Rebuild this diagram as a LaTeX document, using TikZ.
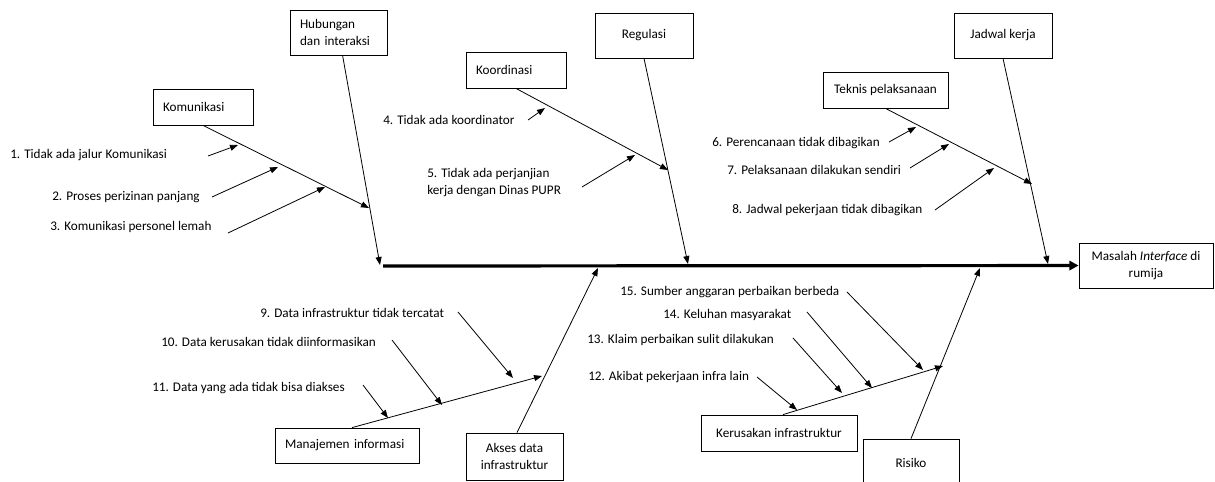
\documentclass[tikz,border=0pt]{standalone}
\usepackage{fontspec}
\setmainfont{Carlito}
\usetikzlibrary{arrows.meta}
\tikzset{
  box/.style={draw, line width=0.6pt, inner xsep=7.5pt, inner ysep=0pt, align=center},
  lbox/.style={box, align=left},
  cause/.style={anchor=west, inner sep=0pt, align=left},
  bone/.style={line width=0.6pt, -{Triangle[length=6pt,width=4.5pt]}},
  spine/.style={line width=2.4pt, -{Triangle[length=7pt,width=7pt]}},
}
\begin{document}
\begin{tikzpicture}[x=0.75pt, y=-0.75pt, font=\fontsize{9.9}{12.9}\selectfont]
      \useasboundingbox (0,0) rectangle (1215,482);
      % category boxes
      \node[lbox, text width=60pt, minimum height=27pt] (kom) at (203,107) {Komunikasi};
      \node[lbox, text width=57.75pt, minimum height=33.75pt] (hub) at (338.5,32.5) {Hubungan\\dan interaksi};
      \node[lbox, text width=60pt, minimum height=27pt] (koo) at (516,70) {Koordinasi};
      \node[box, minimum width=73.5pt, minimum height=33.75pt] (reg) at (644,35.5) {Regulasi};
      \node[box, minimum width=93.75pt, minimum height=27pt] (tek) at (885.5,90) {Teknis pelaksanaan};
      \node[box, minimum width=73.5pt, minimum height=33.75pt] (jad) at (1003,35.5) {Jadwal kerja};
      \node[box, minimum width=100.5pt, minimum height=33.75pt] (mas) at (1146,265.5) {Masalah \textit{Interface} di\\rumija};
      \node[lbox, text width=93pt, minimum height=26.25pt] (man) at (347,445.5) {Manajemen informasi};
      \node[box, minimum width=72.75pt, minimum height=35.25pt] (aks) at (514.5,456.5) {Akses data\\infrastruktur};
      \node[box, minimum width=117pt, minimum height=27pt] (ker) at (779,433) {Kerusakan infrastruktur};
      \node[box, minimum width=72pt, minimum height=36pt] (ris) at (911,463) {Risiko};
      % causes
      \node[cause] (c1) at (10,155) {1. Tidak ada jalur Komunikasi};
      \node[cause] (c2) at (52,197) {2. Proses perizinan panjang};
      \node[cause] (c3) at (50,227) {3. Komunikasi personel lemah};
      \node[cause] (c4) at (383,120) {4. Tidak ada koordinator};
      \node[cause] (c5) at (427,182.5) {5. Tidak ada perjanjian\\kerja dengan Dinas PUPR};
      \node[cause] (c6) at (712,143) {6. Perencanaan tidak dibagikan};
      \node[cause] (c7) at (727,170) {7. Pelaksanaan dilakukan sendiri};
      \node[cause] (c8) at (732,210) {8. Jadwal pekerjaan tidak dibagikan};
      \node[cause] (c9) at (260,313) {9. Data infrastruktur tidak tercatat};
      \node[cause] (c10) at (161,342) {10. Data kerusakan tidak diinformasikan};
      \node[cause] (c11) at (152,388) {11. Data yang ada tidak bisa diakses};
      \node[cause] (c12) at (588,377) {12. Akibat pekerjaan infra lain};
      \node[cause] (c13) at (587,340) {13. Klaim perbaikan sulit dilakukan};
      \node[cause] (c14) at (663,315) {14. Keluhan masyarakat};
      \node[cause] (c15) at (620,292) {15. Sumber anggaran perbaikan berbeda};
      % bone ends
      \path
        (383,266) coordinate (s0)
        (380,265) coordinate (hubE)
        (369,208) coordinate (komE)
        (668,170) coordinate (kooE)
        (688,264) coordinate (regE)
        (1032,184) coordinate (tekE)
        (1048,264) coordinate (jadE)
        (542,376) coordinate (manE)
        (598,268) coordinate (aksE)
        (943,366) coordinate (kerE)
        (980,268) coordinate (risE);
      % arrow tails and tips
      \path
        (208,156) coordinate (t1) (238,145) coordinate (h1)
        (212,197) coordinate (t2) (278,167) coordinate (h2)
        (228,233) coordinate (t3) (325,187) coordinate (h3)
        (528,120) coordinate (t4) (545,108) coordinate (h4)
        (582,187) coordinate (t5) (635,155) coordinate (h5)
        (889,142) coordinate (t6) (916,127) coordinate (h6)
        (910,168) coordinate (t7) (949,144) coordinate (h7)
        (935,210) coordinate (t8) (994,168) coordinate (h8)
        (458,312) coordinate (t9) (513,378) coordinate (h9)
        (392,340) coordinate (t10) (442,405) coordinate (h10)
        (363,385) coordinate (t11) (388,418) coordinate (h11)
        (757,377) coordinate (t12) (797,410) coordinate (h12)
        (793,338) coordinate (t13) (842,393) coordinate (h13)
        (807,312) coordinate (t14) (872,388) coordinate (h14)
        (847,292) coordinate (t15) (923,370) coordinate (h15);
      \draw[spine] (s0) -- (mas);
      \begin{scope}[bone]
        \draw (hub) -- (hubE);
        \draw (kom.south) -- (komE);
        \draw (koo.south) -- (kooE);
        \draw (reg.south) -- (regE);
        \draw (tek.south) -- (tekE);
        \draw (jad.south) -- (jadE);
        \draw (man.north) ++(5,0) -- (manE);
        \draw (aks.north) ++(2.5,0) -- (aksE);
        \draw (ker.north) ++(4,0) -- (kerE);
        \draw (ris.north) -- (risE);
        \foreach \i in {1,...,15}
          \draw (t\i) -- (h\i);
      \end{scope}
    \end{tikzpicture}
\end{document}
